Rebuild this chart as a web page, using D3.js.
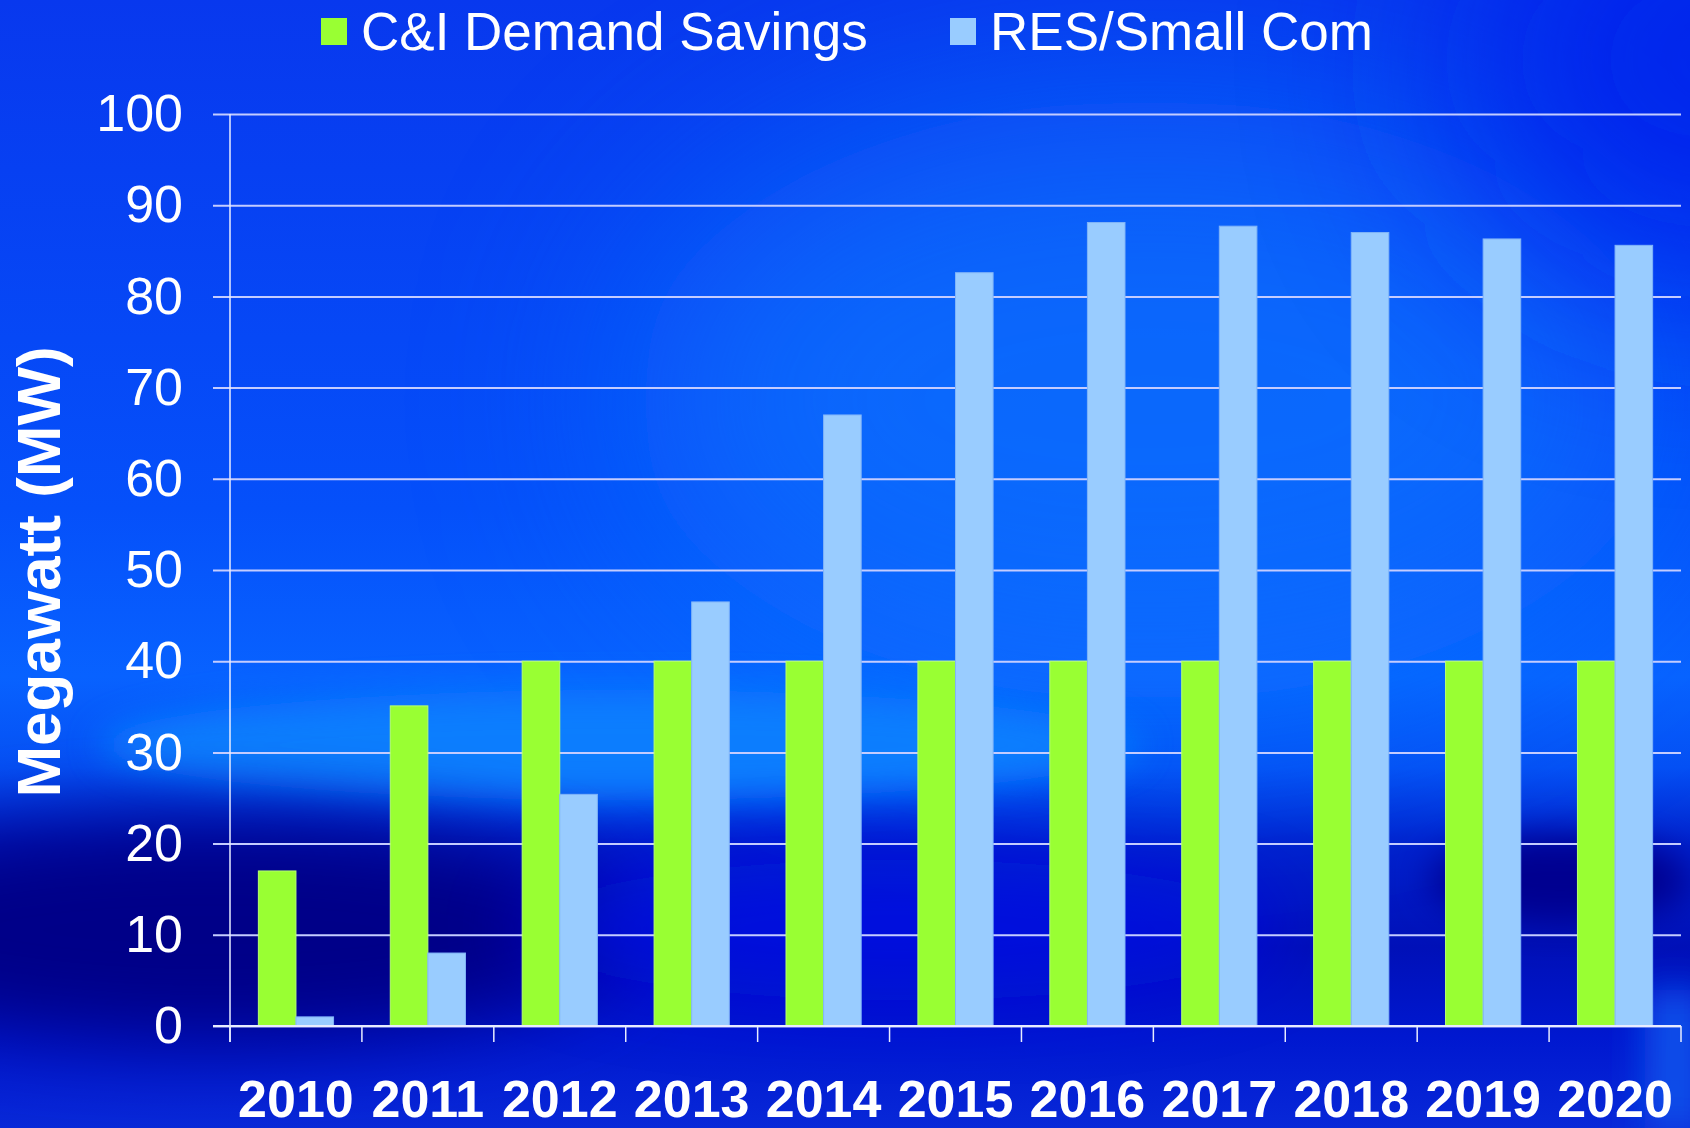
<!DOCTYPE html>
<html>
<head>
<meta charset="utf-8">
<script src="https://cdn.jsdelivr.net/npm/d3@7/dist/d3.min.js"></script>
<style>
  html, body { margin: 0; padding: 0; background: #0838ee; }
  svg { display: block; }
</style>
</head>
<body>
<div id="chart"></div>
<script>
'use strict';

// chart data
const years = ['2010', '2011', '2012', '2013', '2014', '2015', '2016', '2017', '2018', '2019', '2020'];
const seriesNames = ['C&I Demand Savings', 'RES/Small Com'];
const ciDemand = [17, 35.1, 40, 40, 40, 40, 40, 40, 40, 40, 40];
const resSmall = [1, 8, 25.4, 46.5, 67, 82.6, 88.1, 87.7, 87, 86.3, 85.6];
const yTicks = [0, 10, 20, 30, 40, 50, 60, 70, 80, 90, 100];
const colors = ['#99ff33', '#99ccff'];

const width = 1690;
const height = 1128;
const plotL = 230, plotR = 1681, plotT = 114, plotB = 1026;

const svg = d3.select('#chart').append('svg')
    .attr('width', width)
    .attr('height', height);

// background: base gradient plus some blurred blobs
const defs = svg.append('defs');
const bg = defs.append('linearGradient')
    .attr('id', 'bg').attr('x1', 0).attr('y1', 0).attr('x2', 0).attr('y2', 1);
[[0, '#0838ee'], [0.45, '#0550fa'], [0.6, '#0862ff'], [0.68, '#0550f4'],
 [0.75, '#0020cc'], [0.84, '#0010b8'], [0.92, '#0018d0'], [1, '#0828d8']]
    .forEach(s => bg.append('stop').attr('offset', s[0]).attr('stop-color', s[1]));
function blur(id, sd) {
    defs.append('filter').attr('id', id)
        .attr('x', '-60%').attr('y', '-60%').attr('width', '220%').attr('height', '220%')
        .append('feGaussianBlur').attr('stdDeviation', sd);
}
blur('blur', 40);
blur('blur2', 18);
blur('blur3', 110);

svg.append('rect').attr('width', width).attr('height', height).attr('fill', 'url(#bg)');
const blobs = svg.append('g');
blobs.append('ellipse').attr('cx', 1150).attr('cy', 400).attr('rx', 520).attr('ry', 300)
    .attr('fill', '#0a74ff').attr('opacity', 0.7).attr('filter', 'url(#blur3)');
blobs.append('ellipse').attr('cx', 1720).attr('cy', 60).attr('rx', 260).attr('ry', 220)
    .attr('fill', '#0020ec').attr('opacity', 0.9).attr('filter', 'url(#blur3)');
blobs.append('ellipse').attr('cx', 620).attr('cy', 745).attr('rx', 520).attr('ry', 55)
    .attr('fill', '#0a82ff').attr('opacity', 0.9).attr('filter', 'url(#blur2)');
blobs.append('ellipse').attr('cx', 210).attr('cy', 930).attr('rx', 420).attr('ry', 110)
    .attr('fill', '#000088').attr('filter', 'url(#blur)');
blobs.append('ellipse').attr('cx', 900).attr('cy', 930).attr('rx', 380).attr('ry', 70)
    .attr('fill', '#0010e8').attr('opacity', 0.8).attr('filter', 'url(#blur)');
blobs.append('ellipse').attr('cx', 1560).attr('cy', 880).attr('rx', 130).attr('ry', 45)
    .attr('fill', '#000090').attr('filter', 'url(#blur2)');
blobs.append('rect').attr('x', 1645).attr('y', 990).attr('width', 60).attr('height', 140)
    .attr('fill', '#0a50ea').attr('filter', 'url(#blur2)');

// scales
const y = d3.scaleLinear().domain([0, 100]).range([plotB, plotT]);
const x0 = d3.scaleBand().domain(years).range([plotL, plotR])
    .paddingInner(0.43).paddingOuter(0.215);
const x1 = d3.scaleBand().domain(seriesNames).range([0, x0.bandwidth()]);

const font = '"Liberation Sans", Arial, sans-serif';

// gridlines + y labels
const yAxis = svg.append('g')
    .attr('transform', `translate(${plotL},0)`)
    .call(d3.axisLeft(y).tickValues(yTicks).tickSize(17).tickPadding(30));
yAxis.select('.domain').remove();
yAxis.selectAll('.tick line').attr('stroke', '#c4ccff').attr('stroke-width', 2)
    .attr('x2', plotR - plotL).attr('x1', -17);
yAxis.selectAll('.tick text')
    .attr('fill', '#fff').attr('font-family', font).attr('font-size', 52);

// bars
const table = years.map((yr, i) => ({ year: yr, values: [ciDemand[i], resSmall[i]] }));
const groups = svg.append('g').selectAll('g').data(table).join('g')
    .attr('transform', d => `translate(${x0(d.year)},0)`);
groups.selectAll('rect').data(d => d.values.map((v, j) => ({ name: seriesNames[j], v, j })))
    .join('rect')
    .attr('x', d => x1(d.name))
    .attr('y', d => y(d.v))
    .attr('width', x1.bandwidth())
    .attr('height', d => y(0) - y(d.v))
    .attr('fill', d => colors[d.j])
    .attr('stroke', d => d.j === 0 ? '#b8ff70' : '#80b4f8')
    .attr('stroke-width', 1);

// y axis line
svg.append('line')
    .attr('x1', plotL).attr('x2', plotL).attr('y1', plotT).attr('y2', plotB + 16)
    .attr('stroke', '#e8ecff').attr('stroke-width', 1.5);

// x axis baseline and category boundary ticks
svg.append('line')
    .attr('x1', plotL - 17).attr('x2', plotR).attr('y1', plotB).attr('y2', plotB)
    .attr('stroke', '#e8ecff').attr('stroke-width', 2);
const half = x0.step() * x0.paddingInner() / 2;
const bounds = years.map(d => x0(d) - half).concat([plotR]);
svg.append('g').selectAll('line').data(bounds).join('line')
    .attr('x1', d => d).attr('x2', d => d)
    .attr('y1', plotB).attr('y2', plotB + 16)
    .attr('stroke', '#e8ecff').attr('stroke-width', 1.5);

// year labels
const xAxis = svg.append('g')
    .attr('transform', `translate(0,${plotB})`)
    .call(d3.axisBottom(x0).tickSize(0).tickPadding(54));
xAxis.select('.domain').remove();
xAxis.selectAll('.tick text')
    .attr('fill', '#fff').attr('font-family', font).attr('font-size', 52)
    .attr('font-weight', 'bold');

// y title
svg.append('text')
    .attr('transform', 'translate(60,572) rotate(-90)')
    .attr('text-anchor', 'middle')
    .attr('fill', '#fff').attr('font-family', font)
    .attr('font-size', 62).attr('font-weight', 'bold')
    .text('Megawatt (MW)');

// legend
const legendX = [321, 950];
const legend = svg.append('g').selectAll('g').data(seriesNames).join('g')
    .attr('transform', (d, i) => `translate(${legendX[i]},0)`);
legend.append('rect')
    .attr('x', 0).attr('y', 18).attr('width', 26).attr('height', 27)
    .attr('fill', (d, i) => colors[i]);
legend.append('text')
    .attr('x', 40).attr('y', 50)
    .attr('fill', '#fff').attr('font-family', font).attr('font-size', 53)
    .text(d => d);
</script>
</body>
</html>
